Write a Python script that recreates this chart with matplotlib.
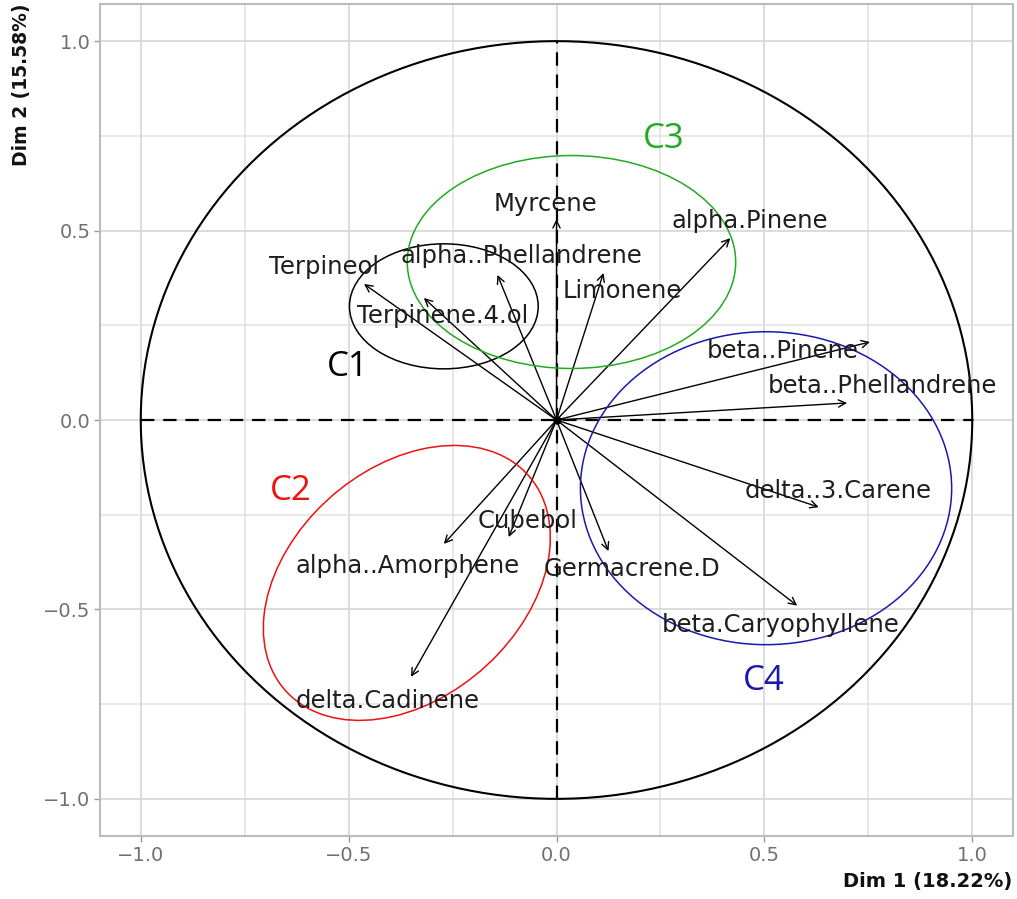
import numpy as np
import matplotlib
matplotlib.use("Agg")
import matplotlib.pyplot as plt
from matplotlib.patches import Ellipse

# ---- data: PCA variable coordinates ----
variables = ["Myrcene", "alpha.Pinene", "alpha..Phellandrene", "Limonene",
             "Terpineol", "Terpinene.4.ol", "beta..Pinene", "beta..Phellandrene",
             "delta..3.Carene", "beta.Caryophyllene", "Germacrene.D", "Cubebol",
             "alpha..Amorphene", "delta.Cadinene"]
dim1 = [0.00, 0.418, -0.142, 0.113, -0.463, -0.319, 0.754, 0.699,
        0.631, 0.579, 0.125, -0.115, -0.271, -0.350]
dim2 = [0.530, 0.480, 0.383, 0.388, 0.359, 0.322, 0.206, 0.045,
        -0.230, -0.490, -0.346, -0.309, -0.327, -0.678]

# label placement (repelled text positions)
label_x = [-0.026, 0.466, -0.084, 0.158, -0.559, -0.274, 0.545, 0.785,
           0.677, 0.538, 0.182, -0.070, -0.358, -0.406]
label_y = [0.570, 0.525, 0.433, 0.340, 0.404, 0.274, 0.182, 0.090,
           -0.187, -0.541, -0.393, -0.266, -0.385, -0.741]

# clusters
cluster_names = ["C1", "C2", "C3", "C4"]
cluster_colors = ["black", "#ee1111", "#22aa22", "#1a1aaa"]
ell_cx = [-0.271, -0.360, 0.036, 0.504]
ell_cy = [0.300, -0.430, 0.417, -0.180]
ell_w = [0.454, 0.818, 0.790, 0.893]
ell_h = [0.330, 0.578, 0.562, 0.826]
ell_angle = [0, 49.3, 0, 0]
clabel_x = [-0.502, -0.639, 0.257, 0.499]
clabel_y = [0.140, -0.187, 0.741, -0.689]

ticks = [-1.0, -0.5, 0.0, 0.5, 1.0]
tick_labels = ["−1.0", "−0.5", "0.0", "0.5", "1.0"]
minor_ticks = [-0.75, -0.25, 0.25, 0.75]

fig = plt.figure(figsize=(10.17, 8.99), dpi=100)
ax = fig.add_axes([100/1017, 63/899, 913/1017, 832/899])
ax.set_xlim(-1.098, 1.098)
ax.set_ylim(-1.098, 1.098)

# grid
ax.set_xticks(ticks)
ax.set_yticks(ticks)
ax.set_xticks(minor_ticks, minor=True)
ax.set_yticks(minor_ticks, minor=True)
ax.grid(True, which="major", color="#d9d9d9", lw=1.3, zorder=0)
ax.grid(True, which="minor", color="#e2e2e2", lw=1.1, zorder=0)
ax.set_axisbelow(True)
ax.set_xticklabels(tick_labels)
ax.set_yticklabels(tick_labels)
ax.tick_params(which="major", length=4, width=1.0, color="#999999",
               labelsize=14, labelcolor="#707070", pad=3)
ax.tick_params(which="minor", length=0)
for sp in ax.spines.values():
    sp.set_color("#bbbbbb")
    sp.set_linewidth(1.5)

# unit circle
t = np.linspace(0, 2*np.pi, 400)
ax.plot(np.cos(t), np.sin(t), color="black", lw=1.5, zorder=2)

# dashed axes
ax.plot([-1, 1], [0, 0], color="black", lw=1.6, ls=(0, (6, 4)), zorder=2)
ax.plot([0, 0], [-1, 1], color="black", lw=1.6, ls=(0, (6, 4)), zorder=2)

# arrows
for x, y in zip(dim1, dim2):
    ax.annotate("", xy=(x, y), xytext=(0, 0),
                arrowprops=dict(arrowstyle="->", lw=1.0, color="black",
                                mutation_scale=13, shrinkA=0, shrinkB=0),
                zorder=3)
ax.plot([0], [0], marker="o", ms=5, color="black", zorder=3)

# labels
for name, lx, ly in zip(variables, label_x, label_y):
    ax.text(lx, ly, name, ha="center", va="center", fontsize=17.5,
            color="#1e1e1e", family="DejaVu Sans", zorder=4)

# cluster ellipses
for cx, cy, w, h, a, c in zip(ell_cx, ell_cy, ell_w, ell_h, ell_angle, cluster_colors):
    ax.add_patch(Ellipse((cx, cy), w, h, angle=a, fill=False, ec=c, lw=1.1, zorder=3))

for name, x, y, c in zip(cluster_names, clabel_x, clabel_y, cluster_colors):
    ax.text(x, y, name, ha="center", va="center", fontsize=25, color=c,
            family="Open Sans", zorder=4)

# axis titles
fig.text(1012/1017, 1 - 882/899, "Dim 1 (18.22%)", ha="right", va="center",
         fontsize=14, fontweight="bold", color="#111111")
fig.text(22/1017, 1 - 4/899, "Dim 2 (15.58%)", ha="center", va="top",
         rotation=90, fontsize=13.5, fontweight="bold", color="#111111")

fig.savefig("out.png", dpi=100)
